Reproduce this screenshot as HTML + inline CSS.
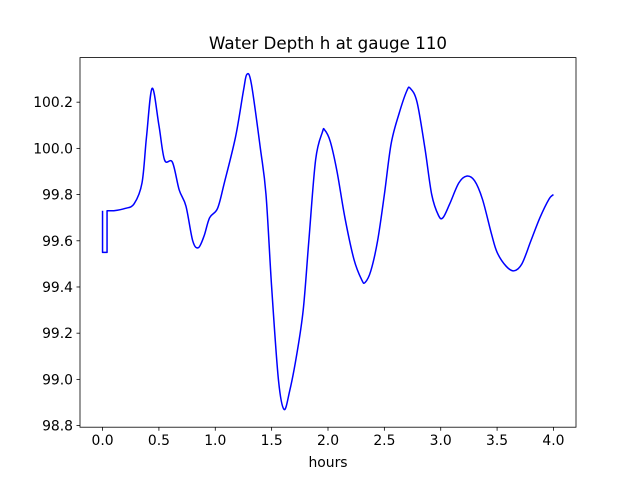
<!DOCTYPE html>
<html><head><meta charset="utf-8"><style>body{margin:0;background:#fff}svg{display:block;font-family:"DejaVu Sans","Liberation Sans",sans-serif}</style></head>
<body>
<svg id="chart" width="640" height="480"></svg>
<script>
const xs=[0,0,0.04,0.04,0.1,0.2,0.28,0.35,0.39,0.44,0.5,0.55,0.62,0.68,0.74,0.8,0.85,0.9,0.95,1.02,1.08,1.18,1.25,1.28,1.32,1.4,1.45,1.5,1.56,1.61,1.66,1.72,1.78,1.83,1.89,1.95,1.97,2.02,2.08,2.15,2.23,2.3,2.33,2.38,2.44,2.5,2.56,2.63,2.7,2.73,2.79,2.86,2.92,2.98,3.02,3.08,3.16,3.23,3.3,3.37,3.45,3.5,3.58,3.65,3.72,3.8,3.88,3.96,4.0];
const ys=[99.73,99.55,99.55,99.73,99.73,99.74,99.76,99.85,100.05,100.26,100.1,99.95,99.94,99.82,99.75,99.6,99.57,99.62,99.7,99.74,99.85,100.05,100.25,100.32,100.28,100.0,99.8,99.4,99.0,98.87,98.95,99.1,99.3,99.6,99.95,100.07,100.08,100.03,99.9,99.7,99.52,99.43,99.42,99.47,99.6,99.8,100.02,100.15,100.25,100.26,100.2,100.0,99.8,99.71,99.7,99.76,99.85,99.88,99.86,99.78,99.63,99.55,99.49,99.47,99.5,99.6,99.7,99.78,99.8];
const xTicks=[0,0.5,1,1.5,2,2.5,3,3.5,4];
const yTicks=[98.8,99.0,99.2,99.4,99.6,99.8,100.0,100.2];
const L=80,R=576,T=57.6,B=427.2,x0=-0.2,x1=4.2,y0=98.793,y1=100.393;
const sx=v=>L+(v-x0)/(x1-x0)*(R-L), sy=v=>B-(v-y0)/(y1-y0)*(B-T);
const svg=document.getElementById('chart');const NS='http://www.w3.org/2000/svg';
function mk(t,a,txt){const e=document.createElementNS(NS,t);for(const k in a)e.setAttribute(k,a[k]);if(txt!==undefined)e.textContent=txt;svg.appendChild(e);return e;}
const P=xs.map((x,i)=>[sx(x),sy(ys[i])]);
let d='M'+P[0][0]+','+P[0][1];
for(let i=1;i<P.length;i++){
  if(i<=4){d+=' L'+P[i][0]+','+P[i][1];continue;}
  const p0=P[i-2],p1=P[i-1],p2=P[i],p3=P[Math.min(i+1,P.length-1)];
  const c1=[p1[0]+(p2[0]-p0[0])/6,p1[1]+(p2[1]-p0[1])/6];
  const c2=[p2[0]-(p3[0]-p1[0])/6,p2[1]-(p3[1]-p1[1])/6];
  d+=' C'+c1[0]+','+c1[1]+' '+c2[0]+','+c2[1]+' '+p2[0]+','+p2[1];
}
let p=mk('path',{d:d,fill:'none',stroke:'#0000ff','stroke-width':1.5,'stroke-linejoin':'round'});

let f=mk('rect',{x:L,y:T,width:R-L,height:B-T,fill:'none',stroke:'#000','stroke-width':0.8});

xTicks.forEach(v=>{const x=sx(v);mk('line',{x1:x,x2:x,y1:B,y2:B+3.5,stroke:'#000','stroke-width':0.8});
let t=mk('text',{x:x,y:B+18,'font-size':13.9,'text-anchor':'middle'},v.toFixed(1));});
yTicks.forEach(v=>{const y=sy(v);mk('line',{x1:L-3.5,x2:L,y1:y,y2:y,stroke:'#000','stroke-width':0.8});
let t=mk('text',{x:L-7,y:y+5,'font-size':13.9,'text-anchor':'end'},v.toFixed(1));});
let xt=mk('text',{x:(L+R)/2,y:467,'font-size':13.9,'text-anchor':'middle'},'hours');
let ti=mk('text',{x:(L+R)/2,y:49,'font-size':16.7,'text-anchor':'middle'},'Water Depth h at gauge 110');
</script>
</body></html>
